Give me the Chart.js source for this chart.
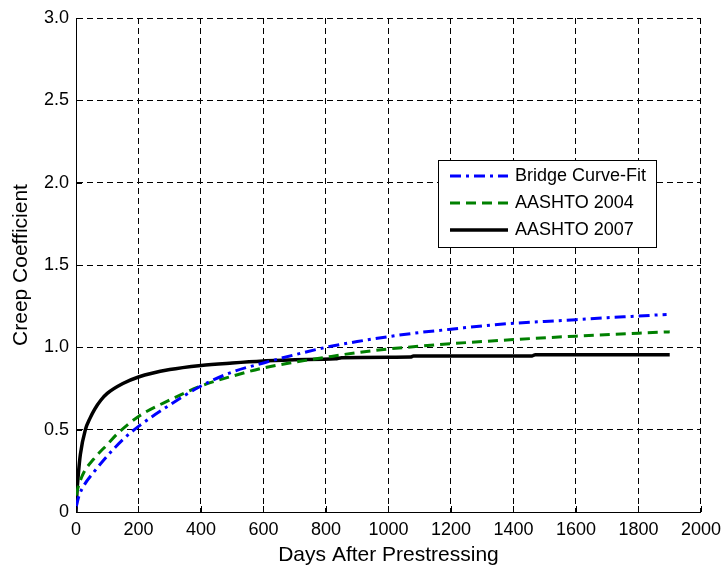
<!DOCTYPE html>
<html>
<head>
<meta charset="utf-8">
<title>Creep Coefficient</title>
<script src="https://cdn.jsdelivr.net/npm/chart.js@4.4.1/dist/chart.umd.min.js"></script>
<style>
  html, body { margin: 0; padding: 0; background: #fff; }
  #wrap { width: 728px; height: 571px; }
</style>
</head>
<body>
<div id="wrap"><canvas id="creep_chart" width="728" height="571"></canvas></div>
<script>
// creep coefficient vs days after prestressing
const bridgeDays  = [0, 10, 25, 56, 100, 150, 200, 300, 400, 500, 600, 700, 800, 900, 1000, 1100, 1200, 1300, 1400, 1500, 1600, 1700, 1800, 1890];
const bridgeCreep = [0.03, 0.10, 0.16, 0.24, 0.34, 0.44, 0.52, 0.65, 0.765, 0.85, 0.905, 0.955, 1.0, 1.035, 1.065, 1.09, 1.11, 1.13, 1.146, 1.157, 1.168, 1.18, 1.19, 1.20];

const aashto04Days  = [0, 10, 25, 56, 100, 135, 200, 300, 400, 500, 600, 700, 800, 900, 1000, 1200, 1400, 1600, 1800, 1900];
const aashto04Creep = [0.10, 0.17, 0.24, 0.32, 0.41, 0.48, 0.58, 0.68, 0.765, 0.825, 0.875, 0.91, 0.94, 0.968, 0.99, 1.022, 1.047, 1.068, 1.086, 1.094];

const aashto07Days  = [0, 3, 7, 14, 30, 45, 60, 80, 100, 150, 200, 300, 400, 500, 600, 700, 830, 850, 1000, 1070, 1080, 1460, 1470, 1900];
const aashto07Creep = [0, 0.12, 0.22, 0.35, 0.50, 0.57, 0.625, 0.68, 0.72, 0.78, 0.82, 0.865, 0.89, 0.905, 0.917, 0.925, 0.93, 0.937, 0.94, 0.941, 0.947, 0.948, 0.955, 0.955];

const xTicks = [0, 200, 400, 600, 800, 1000, 1200, 1400, 1600, 1800, 2000];
const yTicks = [0, 0.5, 1.0, 1.5, 2.0, 2.5, 3.0];

const FONT = 'Arial, "Liberation Sans", Helvetica, sans-serif';

function toPoints(xs, ys){
  return xs.map((x, i) => ({ x: x, y: ys[i] }));
}

// inward tick marks on the left and bottom axes
const innerTicks = {
  id: 'innerTicks',
  afterDatasetsDraw(chart){
    const ctx = chart.ctx;
    const area = chart.chartArea;
    const xs = chart.scales.x, ys = chart.scales.y;
    ctx.save();
    ctx.strokeStyle = '#000';
    ctx.lineWidth = 1;
    ctx.beginPath();
    xTicks.forEach(v => {
      const px = Math.round(xs.getPixelForValue(v)) + 0.5;
      ctx.moveTo(px, area.bottom);
      ctx.lineTo(px, area.bottom - 6);
    });
    yTicks.forEach(v => {
      const py = Math.round(ys.getPixelForValue(v)) + 0.5;
      ctx.moveTo(area.left, py);
      ctx.lineTo(area.left + 6, py);
    });
    ctx.stroke();
    ctx.restore();
  }
};

// boxed legend inside the plot
const boxLegend = {
  id: 'boxLegend',
  afterDraw(chart){
    const ctx = chart.ctx;
    const x0 = 438, y0 = 160, w = 218, h = 87;
    ctx.save();
    ctx.fillStyle = '#fff';
    ctx.fillRect(x0, y0, w, h);
    ctx.strokeStyle = '#000';
    ctx.lineWidth = 1;
    ctx.strokeRect(x0 + 0.5, y0 + 0.5, w, h);
    ctx.font = '18px ' + FONT;
    ctx.textBaseline = 'middle';
    chart.data.datasets.forEach((ds, i) => {
      const y = y0 + 16 + i * 27;
      ctx.strokeStyle = ds.borderColor;
      ctx.lineWidth = ds.borderWidth;
      ctx.setLineDash(ds.borderDash || []);
      ctx.beginPath();
      ctx.moveTo(x0 + 12, y);
      ctx.lineTo(x0 + 70, y);
      ctx.stroke();
      ctx.setLineDash([]);
      ctx.fillStyle = '#000';
      ctx.fillText(ds.label, x0 + 77, y);
    });
    ctx.restore();
  }
};

const ctx = document.getElementById('creep_chart').getContext('2d');
const chart = new Chart(ctx, {
  type: 'line',
  data: {
    datasets: [
      {
        label: 'Bridge Curve-Fit',
        data: toPoints(bridgeDays, bridgeCreep),
        borderColor: '#0000ff',
        borderWidth: 3,
        borderDash: [11, 5, 3, 5]
      },
      {
        label: 'AASHTO 2004',
        data: toPoints(aashto04Days, aashto04Creep),
        borderColor: '#008000',
        borderWidth: 3,
        borderDash: [10, 6]
      },
      {
        label: 'AASHTO 2007',
        data: toPoints(aashto07Days, aashto07Creep),
        borderColor: '#000000',
        borderWidth: 3.5
      }
    ]
  },
  options: {
    responsive: false,
    animation: false,
    devicePixelRatio: 1,
    layout: { padding: { top: 18, right: 22, left: 0, bottom: 0 } },
    elements: {
      point: { radius: 0 },
      line: { cubicInterpolationMode: 'monotone', fill: false }
    },
    plugins: {
      legend: { display: false },
      tooltip: { enabled: false }
    },
    scales: {
      x: {
        type: 'linear',
        min: 0,
        max: 2000,
        afterFit: s => { s.height = 59; },
        afterBuildTicks: s => { s.ticks = xTicks.map(v => ({ value: v })); },
        ticks: {
          color: '#000',
          font: { family: FONT, size: 18 },
          padding: 7,
          maxRotation: 0,
          callback: v => String(v)
        },
        grid: { color: '#000', lineWidth: 1, drawTicks: false },
        border: { display: true, color: '#000', width: 1, dash: [6, 4] },
        title: { display: true, text: 'Days After Prestressing', color: '#000', font: { family: FONT, size: 21 }, padding: { top: 0, bottom: 3 } }
      },
      y: {
        type: 'linear',
        min: 0,
        max: 3,
        afterFit: s => { s.width = 76; },
        afterBuildTicks: s => { s.ticks = yTicks.map(v => ({ value: v })); },
        ticks: {
          color: '#000',
          font: { family: FONT, size: 18 },
          padding: 7,
          callback: v => v === 0 ? '0' : v.toFixed(1)
        },
        grid: { color: '#000', lineWidth: 1, drawTicks: false },
        border: { display: true, color: '#000', width: 1, dash: [6, 4] },
        title: { display: true, text: 'Creep Coefficient', color: '#000', font: { family: FONT, size: 21 }, padding: { top: 9, bottom: 0 } }
      }
    }
  },
  plugins: [innerTicks, boxLegend]
});
</script>
</body>
</html>
